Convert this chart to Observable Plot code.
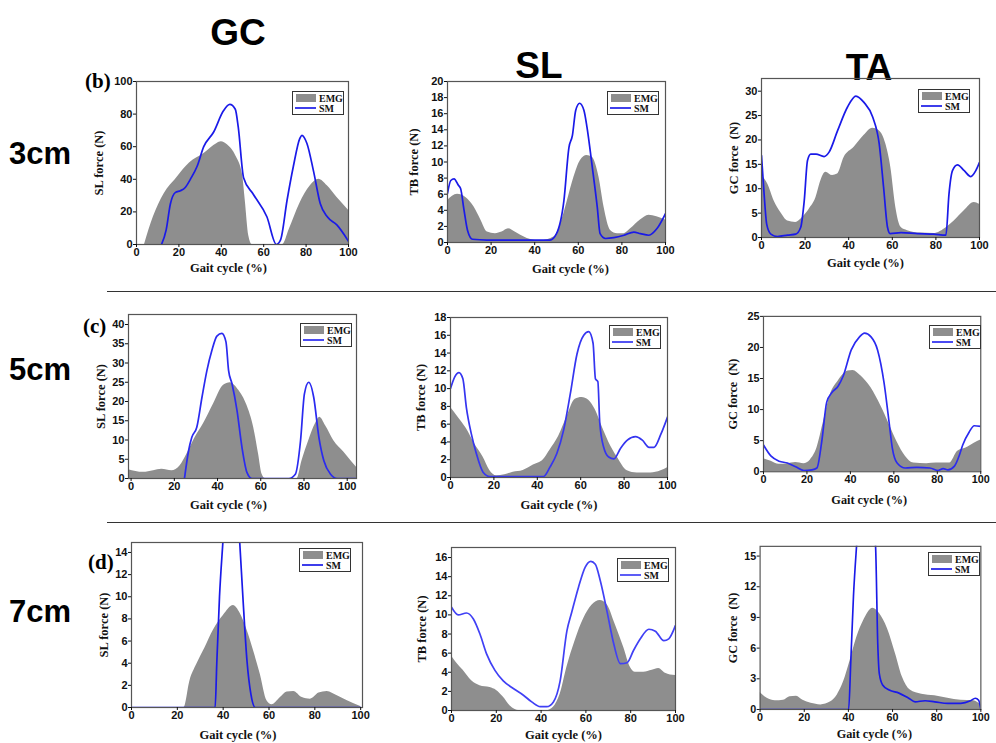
<!DOCTYPE html>
<html><head><meta charset="utf-8">
<script src="https://cdn.jsdelivr.net/npm/d3@7"></script>
<script src="https://cdn.jsdelivr.net/npm/@observablehq/plot@0.6"></script>
<style>
html,body{margin:0;padding:0;background:#fff;}
#root{position:relative;width:996px;height:743px;overflow:hidden;background:#fff;}
.abs{position:absolute;}
.hdr{position:absolute;font-family:"Liberation Sans",Arial,sans-serif;font-weight:bold;color:#000;line-height:1;white-space:nowrap;}
.plab{position:absolute;font-family:"Liberation Serif","Times New Roman",serif;font-weight:bold;font-size:21px;line-height:1;color:#000;}
.sep{position:absolute;left:107px;width:889px;height:0;border-top:1.6px solid #333;}
</style></head>
<body><div id="root"></div>
<script>
// ---- column / row labels ----
const columns = ["GC", "SL", "TA"];
const rows = ["3cm", "5cm", "7cm"];
const panelTags = ["(b)", "(c)", "(d)"];
const legendLabels = ["EMG", "SM"];
const xTicks = [0, 20, 40, 60, 80, 100];
const xLabel = "Gait cycle (%)";
const yLabels = ["SL force (N)", "TB force (N)", "GC force\u00a0 (N)"];

// ---- row 1 (3cm) ----
const p1EmgX = [3.8, 8, 13, 19, 25, 32, 38, 40, 43, 47, 50, 51.3, 53, 54.5, 60, 69, 72, 77, 82, 86, 90, 94.5, 100];
const p1EmgY = [0, 17, 31, 41, 50, 56, 62, 63, 61, 54, 43, 27, 5, 0, 0, 0, 9, 25, 36, 40, 36, 29, 21];
const p1SmX = [11.8, 14, 16, 18.4, 20.7, 23, 25.4, 28.6, 31.7, 36.4, 41, 44, 46.6, 48, 50.5, 55, 61.5, 66, 68, 71, 74, 77, 78, 80.4, 83.5, 86.7, 90, 94.5, 100];
const p1SmY = [0, 9, 25, 32, 33, 35, 40, 48, 60, 69, 82, 86, 83, 72, 41, 31, 17, 0, 3, 27, 48, 65, 67, 62, 45, 25, 17, 12, 2];

const p2EmgX = [0, 4.6, 8.4, 12.2, 15.3, 18.3, 22, 25, 28, 31, 36.6, 42.7, 49, 52, 55, 58, 61, 64, 66.4, 69.5, 71.8, 74.8, 78, 81, 84, 88.5, 92.4, 96, 100];
const p2EmgY = [5.2, 6, 5.6, 4.4, 2.8, 1.3, 1.1, 1.3, 1.7, 1.3, 0.5, 0.2, 0.7, 2.4, 5.2, 8.1, 10.2, 10.8, 10.6, 8.1, 4.4, 1.5, 1.1, 1.1, 1.7, 2.8, 3.4, 3.2, 2.8];
const p2SmX = [0, 1.5, 3, 5, 6, 7.6, 9.2, 11.5, 18, 30, 40, 47, 50, 53.4, 55.7, 57.3, 58.8, 60.6, 62.6, 64, 66.4, 68.7, 70, 72.5, 76.3, 81, 85.5, 88.5, 92.4, 96, 100];
const p2SmY = [6.1, 7.7, 7.9, 7.1, 6.7, 4.0, 1.5, 0.4, 0.3, 0.3, 0.3, 0.3, 1.1, 5.2, 11.8, 13.3, 16.4, 17.3, 16.4, 14.3, 9.4, 4.4, 1.1, 0.5, 0.6, 0.9, 1.3, 1.1, 0.9, 1.7, 3.6];

const p3EmgX = [0, 2.8, 5.8, 8.9, 12, 15.7, 18.8, 21.9, 25, 27.2, 29.5, 32.6, 34.9, 37.9, 42.5, 47, 51, 54, 57, 59.3, 61.6, 64, 67, 73, 79, 85, 88.4, 93, 97.6, 100];
const p3EmgY = [12.7, 11, 7.5, 5.1, 3.4, 3.1, 4.1, 5.8, 8.2, 11.6, 13.4, 12.7, 13, 16.4, 18.5, 20.9, 22.4, 21.9, 19.2, 14.4, 6.2, 2.1, 1.4, 0.9, 0.8, 2.1, 3.4, 5.5, 7.2, 6.8];
const p3SmX = [0, 1.2, 2.4, 4.3, 7.3, 12, 15.7, 18, 19.6, 21.1, 22.6, 25, 28.7, 31, 34.9, 39.4, 43.3, 47, 51, 54, 56, 57.8, 59, 64, 71.6, 79, 84.6, 86, 87.6, 89.9, 93, 96, 98.3, 100];
const p3SmY = [16.8, 8.9, 2.7, 0.7, 0.2, 0.5, 0.7, 2.1, 7.5, 15.8, 17.1, 17.1, 16.6, 17.5, 21.9, 26.7, 29, 27.7, 24.7, 19.2, 10.3, 2.1, 0.8, 1.0, 0.8, 0.7, 0.5, 8.9, 13.7, 14.9, 13.7, 12.5, 13.7, 15.4];

// ---- row 2 (5cm) ----
const p4EmgX = [-1.2, 5.7, 10.4, 14.2, 18.9, 22.7, 25.8, 29.7, 33.5, 38.2, 42.8, 45.9, 49.8, 53.6, 56.7, 59, 60.6, 62.1, 70, 76.8, 79.1, 82.2, 85.3, 87.3, 90, 93.8, 98.5, 102.3, 104.3];
const p4EmgY = [2.3, 1.6, 2.0, 2.4, 2.0, 3.3, 6.3, 10.7, 14.2, 19.4, 24.2, 24.9, 22.9, 19, 13.3, 6.3, 1.1, 0, 0, 0, 4.6, 9.8, 14.2, 15.9, 13.7, 9.8, 6.8, 4.2, 2.9];
const p4SmX = [24.7, 26.6, 28.1, 30.4, 32.8, 35.1, 37.4, 39.7, 42, 43.9, 45.1, 46.7, 49, 51.3, 53.6, 55.9, 65, 73, 76, 78.4, 80.2, 82.2, 84.5, 86.9, 89.2, 92.3, 95.4, 104.3];
const p4SmY = [0, 7.2, 10.7, 13.3, 21.1, 28.1, 33.3, 37, 37.7, 35.5, 28.1, 24.6, 17.7, 8.1, 1.6, 0, 0, 0, 1.1, 9.8, 22, 25, 21.1, 10.7, 4.6, 1.1, 0, 0];

const p5EmgX = [0, 3.4, 7.3, 11.1, 15, 18.1, 21.2, 25, 28.9, 33.5, 38.2, 42.8, 45.9, 49.8, 53.6, 57.5, 60.6, 63.7, 66.8, 69.9, 72.9, 76.8, 81.5, 86, 92.3, 97, 100];
const p5EmgY = [7.9, 6.8, 5.5, 3.8, 2.3, 0.8, 0.2, 0.3, 0.6, 0.8, 1.4, 2, 3.1, 4.6, 6.8, 8.8, 9, 8.7, 7.6, 5.7, 4, 2.3, 0.75, 0.5, 0.5, 0.75, 1.1];
const p5SmX = [0, 1.9, 3.9, 5.7, 7.3, 9.6, 11.9, 15, 18.1, 30, 42.8, 45.9, 49, 52.1, 55.2, 58.3, 61.4, 63.7, 65.7, 66.8, 67.9, 68.8, 70.6, 72.9, 75.3, 78.4, 81.5, 85.3, 88.4, 91.5, 93.8, 97, 100];
const p5SmY = [10, 11.3, 11.8, 11.1, 7.9, 4.9, 2.7, 0.6, 0.1, 0.1, 0.1, 1.2, 2.7, 5.3, 9.4, 13.9, 16, 16.4, 15.1, 11.1, 10.8, 6.1, 3.4, 2.3, 2.1, 3.3, 4.2, 4.6, 4.2, 3.4, 3.4, 4.9, 6.8];

const p6EmgX = [0, 3.5, 7.2, 11, 14.8, 18.6, 21.6, 24.6, 27.6, 30.6, 34.4, 38.9, 41.2, 44.9, 49.5, 54, 57.8, 61.5, 65.3, 69.1, 75.1, 79.6, 85.7, 89.4, 93.2, 97, 100];
const p6EmgY = [2.1, 1.7, 1.2, 1.3, 1.5, 1.3, 1.9, 3.8, 8, 12.2, 14.6, 16.2, 16.3, 15.4, 13.5, 10.6, 7.7, 4.8, 2.5, 1.4, 1.3, 1.4, 1.4, 3.3, 3.8, 4.6, 5.1];
const p6SmX = [0, 3.5, 7.2, 11, 14.8, 18.6, 22.3, 24.6, 26.8, 29.1, 31.4, 34.4, 36.7, 40.4, 44.2, 46.5, 49.5, 52.5, 55.5, 57.8, 59.3, 61.5, 65.3, 70.6, 76.6, 80.4, 82.7, 84.9, 87.9, 90.2, 91.7, 94.7, 97, 100];
const p6SmY = [4.3, 2.5, 1.7, 1.4, 0.8, 0.2, 0.3, 0.6, 4.8, 11.2, 12.7, 13.8, 15.4, 19.6, 21.7, 22.3, 21.7, 19.6, 14.3, 8, 3.8, 1.4, 0.6, 0.7, 0.6, 0.2, 0.5, 0.3, 0.9, 2.7, 4.3, 6.4, 7.4, 7.3];

// ---- row 3 (7cm) ----
const p7EmgX = [0, 15, 22.9, 25.5, 28.5, 32.1, 35.8, 40.1, 44.5, 47.4, 50.4, 53.3, 56.2, 59.1, 61.3, 65, 67.9, 70.8, 74.5, 78.1, 81.8, 85.4, 89.8, 94.2, 100];
const p7EmgY = [0, 0, 0, 2.4, 3.9, 5.4, 7, 8.3, 9.2, 8.5, 7, 5.1, 3, 0.6, 0.25, 0.9, 1.4, 1.45, 0.9, 0.75, 1.3, 1.45, 1.05, 0.6, 0.1];
const p7SmX = [0, 20, 36.5, 37.2, 38.4, 39.9, 41.5, 43.5, 45.5, 47.2, 48.6, 50.4, 52.1, 54, 70, 100];
const p7SmY = [0, 0, 0, 3.9, 10, 15, 20, 23, 20, 15, 10, 4.2, 1.2, 0, 0, 0];

const p8EmgX = [0, 2.2, 5.2, 9, 12.7, 17.2, 20.1, 23.1, 26.1, 28.4, 29.9, 36, 42.5, 45.5, 48.5, 51.5, 55.2, 59, 62.7, 66.4, 69.4, 73.1, 76.9, 79.9, 82.1, 85.8, 89.6, 92.5, 95.5, 100];
const p8EmgY = [5.7, 5, 4.2, 3.1, 2.6, 2.4, 2.1, 1.4, 0.5, 0.1, 0, 0, 0, 0.35, 1.7, 4.5, 7.3, 9.6, 11, 11.5, 11.1, 9, 6.6, 4.5, 4, 4, 4.2, 4.4, 3.9, 3.65];
const p8SmX = [0, 3, 6.7, 9.7, 12.7, 15.7, 19.4, 23.1, 27.6, 32.1, 35.8, 39.6, 42.5, 45.5, 48.5, 51.5, 53.7, 56.7, 59.7, 62.2, 64.2, 66.4, 69.4, 72.4, 75.4, 78.4, 81.3, 84.3, 88.1, 91, 94.8, 97, 100];
const p8SmY = [10.8, 10, 10.2, 9.6, 8, 5.9, 4.2, 3.1, 2.3, 1.6, 0.9, 0.4, 0.4, 0.9, 3.1, 8.3, 10.3, 12.9, 15, 15.6, 15.3, 13.6, 10.4, 7, 4.9, 5, 6.3, 7.5, 8.5, 8.3, 7.3, 7.5, 8.9];

const p9EmgX = [0, 3.2, 6.9, 10.6, 13.5, 16.5, 19.4, 23.1, 27.5, 32, 34.9, 37.8, 40.8, 43.7, 46.7, 51.1, 54, 57.7, 61.4, 64.4, 68, 73.2, 79.1, 85, 90.9, 96.8, 100];
const p9EmgY = [1.65, 1.1, 0.85, 0.9, 1.25, 1.3, 0.9, 0.6, 0.45, 0.75, 1.4, 2.7, 4.8, 7, 8.6, 9.9, 9.4, 7.9, 5.4, 3.2, 1.9, 1.5, 1.35, 1.1, 0.9, 0.85, 0.45];
const p9SmX = [0, 20, 40.1, 41.1, 42.3, 43.7, 45.5, 47.5, 49.8, 52.3, 53.3, 54, 55.5, 58.5, 62.9, 67.3, 70.2, 74.7, 79.1, 85, 90.9, 95.3, 97.5, 99, 100];
const p9SmY = [0, 0, 0, 4.8, 11.1, 16, 21, 24, 21, 16, 6.4, 3.5, 2.4, 1.9, 1.6, 1.1, 0.75, 0.85, 0.75, 0.6, 0.6, 0.85, 1.1, 0.9, 0];

// ---- panel configs (frame boxes in page pixels) ----
const panels = [
  {fx0:136, fx1:348, fy0:81, fy1:244, xd:[0,100], yd:[0,100], yt:d3.range(0,101,20), emg:[p1EmgX,p1EmgY], sm:[p1SmX,p1SmY], yl:0, ylDx:-38, xlDx:-14, xlDy:23, leg:[292,91], col:"#1a1ae8"},
  {fx0:447, fx1:665, fy0:81, fy1:242, xd:[0,100], yd:[0,20], yt:d3.range(0,21,2), emg:[p2EmgX,p2EmgY], sm:[p2SmX,p2SmY], yl:1, ylDx:-34, xlDx:14, xlDy:26, leg:[607,91], col:"#1a1ae8"},
  {fx0:761, fx1:979, fy0:78, fy1:237, xd:[0,100], yd:[0,32.6], yt:d3.range(0,31,5), emg:[p3EmgX,p3EmgY], sm:[p3SmX,p3SmY], yl:2, ylDx:-28, xlDx:-5, xlDy:25, leg:[918,89], col:"#1a1ae8"},
  {fx0:128, fx1:356, fy0:314, fy1:478, xd:[-1.2,104.3], yd:[0,42.6], yt:d3.range(0,41,5), emg:[p4EmgX,p4EmgY], sm:[p4SmX,p4SmY], yl:0, ylDx:-28, xlDx:-14, xlDy:26, leg:[300,323], col:"#2a2af0"},
  {fx0:450, fx1:667, fy0:317, fy1:477, xd:[0,100], yd:[0,18], yt:d3.range(0,19,2), emg:[p5EmgX,p5EmgY], sm:[p5SmX,p5SmY], yl:1, ylDx:-30, xlDx:0, xlDy:27, leg:[609,325], col:"#3535f0"},
  {fx0:764, fx1:985, fy0:316, fy1:474, xd:[0,100], yd:[0,25], yt:d3.range(0,26,5), emg:[p6EmgX,p6EmgY], sm:[p6SmX,p6SmY], yl:2, ylDx:-31, xlDx:-3, xlDy:29, leg:[929,325], col:"#2a2af0"},
  {fx0:131, fx1:362, fy0:542, fy1:707, xd:[0,100.8], yd:[0,14.9], yt:d3.range(0,15,2), emg:[p7EmgX,p7EmgY], sm:[p7SmX,p7SmY], yl:0, ylDx:-28, xlDx:-9, xlDy:27, leg:[299,548], col:"#1a1ae8"},
  {fx0:451, fx1:675, fy0:547, fy1:710, xd:[0,100], yd:[0,17.05], yt:d3.range(0,17,2), emg:[p8EmgX,p8EmgY], sm:[p8SmX,p8SmY], yl:1, ylDx:-30, xlDx:0, xlDy:24, leg:[617,558], col:"#4040f5"},
  {fx0:761, fx1:987, fy0:546, fy1:713, xd:[0,100], yd:[0,15.95], yt:d3.range(0,16,3), emg:[p9EmgX,p9EmgY], sm:[p9SmX,p9SmY], yl:2, ylDx:-28, xlDx:4, xlDy:25, leg:[928,552], col:"#1a1ae8"}
];

const root = document.getElementById("root");
const EMG_FILL = "#8e8e8e";

function addDiv(cls, text, css) {
  const d = document.createElement("div");
  d.className = cls; d.textContent = text;
  Object.assign(d.style, css);
  root.appendChild(d);
  return d;
}

// headers
const colCenters = [238, 539, 869];
const colTops = [14, 47, 49];
columns.forEach((c, i) => {
  addDiv("hdr", c, {fontSize: "37px", top: colTops[i] + "px", left: (colCenters[i] - 40) + "px", width: "80px", textAlign: "center"});
});
const rowTops = [138, 354, 596];
rows.forEach((r, i) => addDiv("hdr", r, {fontSize: "31px", top: rowTops[i] + "px", left: "9px"}));
const tagPos = [[85, 71], [83, 316], [88, 552]];
panelTags.forEach((t, i) => addDiv("plab", t, {left: tagPos[i][0] + "px", top: tagPos[i][1] + "px"}));
[291, 522].forEach(y => { const d = document.createElement("div"); d.className = "sep"; d.style.top = y + "px"; root.appendChild(d); });

const toRows = ([xs, ys]) => xs.map((x, i) => ({x, y: ys[i]}));

panels.forEach(p => {
  const mL = 60, mR = 16, mT = 6, mB = 46;
  const W = (p.fx1 - p.fx0) + mL + mR;
  const H = (p.fy1 - p.fy0) + mT + mB;
  const emg = toRows(p.emg), sm = toRows(p.sm);
  const chart = Plot.plot({
    width: W, height: H,
    marginLeft: mL, marginRight: mR, marginTop: mT, marginBottom: mB,
    style: {fontFamily: "'Liberation Sans', Arial, sans-serif", fontSize: "11px", fontWeight: "bold", background: "transparent", color: "#111", overflow: "visible"},
    x: {domain: p.xd},
    y: {domain: p.yd},
    marks: [
      Plot.areaY(emg, {x: "x", y: "y", fill: EMG_FILL, curve: "monotone-x", clip: true}),
      Plot.lineY(sm, {x: "x", y: "y", stroke: p.col, strokeWidth: 1.7, curve: "monotone-x", clip: true}),
      Plot.frame({stroke: "#555", strokeWidth: 1.2}),
      Plot.axisX({ticks: xTicks.filter(t => t >= p.xd[0] && t <= p.xd[1] + 0.5), tickSize: 3, tickPadding: 1, label: null, tickFormat: d3.format("d")}),
      Plot.axisY({ticks: p.yt, tickSize: 3, tickPadding: 1, label: null, tickFormat: d3.format("d")}),
      Plot.text([yLabels[p.yl]], {frameAnchor: "left", rotate: -90, dx: p.ylDx, textAnchor: "middle", lineAnchor: "middle", fontFamily: "'Liberation Serif', 'Times New Roman', serif", fontSize: 12.5, fontWeight: "bold", fill: "#111"}),
      Plot.text([xLabel], {frameAnchor: "bottom", dx: p.xlDx, dy: p.xlDy, textAnchor: "middle", lineAnchor: "middle", fontFamily: "'Liberation Serif', 'Times New Roman', serif", fontSize: 12.5, fontWeight: "bold", fill: "#111"})
    ]
  });
  const wrap = document.createElement("div");
  wrap.className = "abs";
  wrap.style.left = (p.fx0 - mL) + "px";
  wrap.style.top = (p.fy0 - mT) + "px";
  wrap.appendChild(chart);
  root.appendChild(wrap);

  // legend
  const ns = "http://www.w3.org/2000/svg";
  const lw = 52, lh = 24;
  const svg = document.createElementNS(ns, "svg");
  svg.setAttribute("width", lw); svg.setAttribute("height", lh);
  svg.style.position = "absolute";
  svg.style.left = p.leg[0] + "px"; svg.style.top = p.leg[1] + "px";
  svg.innerHTML =
    `<rect x="0.5" y="0.5" width="${lw-1}" height="${lh-1}" fill="#fff" stroke="#333" stroke-width="1"/>` +
    `<rect x="4" y="3" width="20" height="8" fill="${EMG_FILL}"/>` +
    `<line x1="3" x2="24" y1="17" y2="17" stroke="${p.col}" stroke-width="1.7"/>` +
    `<text x="27" y="10.5" font-family="Liberation Serif, Times New Roman, serif" font-weight="bold" font-size="10" fill="#111">${legendLabels[0]}</text>` +
    `<text x="27" y="20.5" font-family="Liberation Serif, Times New Roman, serif" font-weight="bold" font-size="10" fill="#111">${legendLabels[1]}</text>`;
  root.appendChild(svg);
});
</script>
</body></html>
